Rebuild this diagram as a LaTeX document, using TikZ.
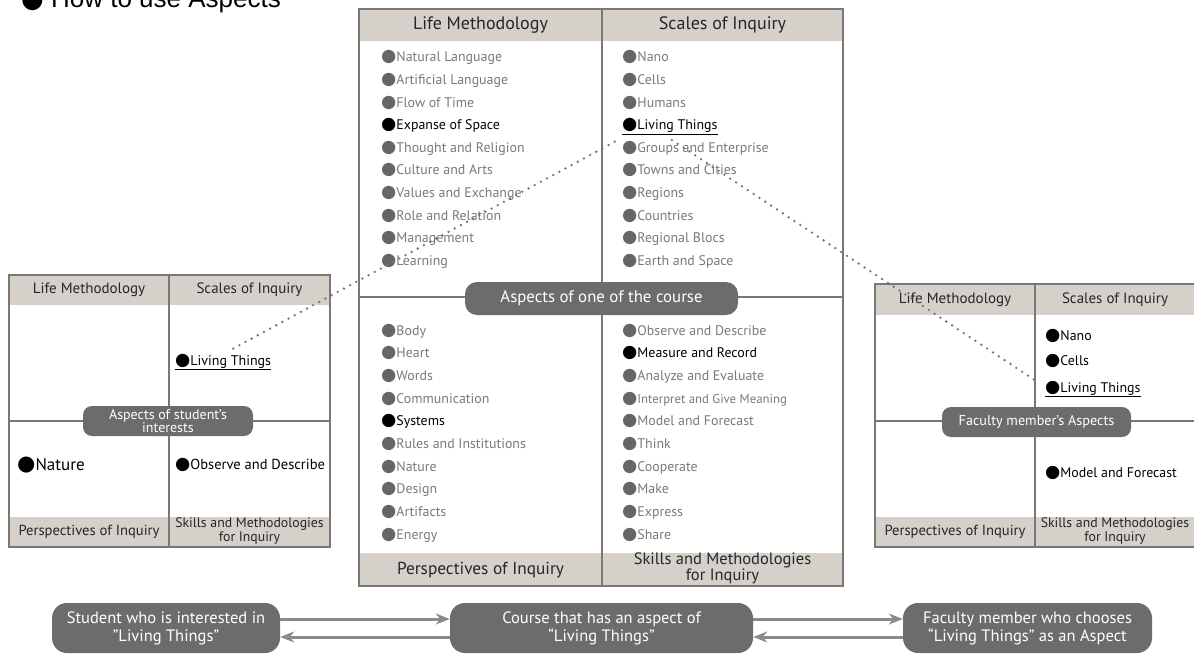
\documentclass[tikz,border=0pt]{standalone}
\usepackage{fontspec}
\setmainfont{PT Sans}
\newfontfamily\symf{DejaVu Sans}
\newfontfamily\titf{Liberation Sans}
\usetikzlibrary{arrows.meta}
\definecolor{hdrc}{HTML}{D6D0CB}
\definecolor{brdc}{HTML}{7B7775}
\definecolor{pillc}{HTML}{6E6C6B}
\definecolor{itmc}{HTML}{7A7A7A}
\definecolor{bulc}{HTML}{666666}
\definecolor{dotc}{HTML}{7F7070}
\definecolor{arrc}{HTML}{8A8A8A}
\newcommand{\gb}{{\color{bulc}\symf\fontsize{17.5}{17}\selectfont ●}}
\newcommand{\bb}{{\color{black}\symf\fontsize{17.5}{17}\selectfont ●}}
\newcommand{\bbig}{{\color{black}\symf\fontsize{21}{21}\selectfont ●}}
\tikzset{
  gi/.style={anchor=base west, inner sep=0pt, text=itmc, font=\fontsize{13.9}{15}\selectfont, execute at begin node=\gb},
  bi/.style={anchor=base west, inner sep=0pt, text=black, font=\fontsize{13.9}{15}\selectfont, execute at begin node=\bb},
  ui/.style={anchor=base west, inner sep=0pt, text=black, font=\fontsize{13.9}{15}\selectfont},
  hd/.style={inner sep=0pt, text=black!85, align=center},
  pill/.style={fill=pillc, text=white, align=center, inner sep=0pt},
  gridline/.style={draw=brdc, line width=1.3pt},
  dotline/.style={draw=dotc, line width=2.6pt, line cap=round, dash pattern=on 0pt off 7pt},
  arrline/.style={draw=arrc, line width=3pt, -{Stealth[length=14pt,width=11pt]}}
}
\begin{document}
\begin{tikzpicture}[x=1pt,y=-1pt]
\useasboundingbox (0,0) rectangle (1194,655);
\clip (0,0) rectangle (1194,655);
\fill[white] (0,0) rectangle (1194,655);

% title (cut at top)
\node[anchor=base west, inner sep=0pt, font=\titf\fontsize{26}{26}\selectfont] (title) at (21,8) {{\symf ●} How to use Aspects};

% ===== central grid =====
\fill[hdrc] (359,9) rectangle (843,41);
\fill[hdrc] (359,553) rectangle (843,586);
\draw[gridline] (359,9) rectangle (843,586);
\draw[gridline] (602,9) -- (602,586);
\draw[gridline] (359,297) -- (843,297);
\node[hd, font=\fontsize{18}{19}\selectfont] (cLM) at (480.5,25) {Life Methodology};
\node[hd, font=\fontsize{18}{19}\selectfont] (cSI) at (722.5,25) {Scales of Inquiry};
\node[hd, font=\fontsize{17.3}{19}\selectfont] (cPI) at (480.5,570) {Perspectives of Inquiry};
\node[hd, font=\fontsize{16.5}{14}\selectfont] (cSM) at (722.5,568) {Skills and Methodologies\\for Inquiry};

\foreach \t/\s [count=\i from 0] in {Natural Language/gi, Artificial Language/gi, Flow of Time/gi, Expanse of Space/bi, Thought and Religion/gi, Culture and Arts/gi, Values and Exchange/gi, Role and Relation/gi, Management/gi, Learning/gi}
  \node[\s] (lm\i) at (381,{62+22.6*\i}) {\t};
\foreach \t/\s/\i in {Nano/gi/0, Cells/gi/1, Humans/gi/2, Groups and Enterprise/gi/4, Towns and Cities/gi/5, Regions/gi/6, Countries/gi/7, Regional Blocs/gi/8, Earth and Space/gi/9}
  \node[\s] (si\i) at (622,{62+22.6*\i}) {\t};
\node[ui] (cLT) at (622,129.8) {\underline{\bb Living Things}};
\foreach \t/\s [count=\i from 0] in {Body/gi, Heart/gi, Words/gi, Communication/gi, Systems/bi, Rules and Institutions/gi, Nature/gi, Design/gi, Artifacts/gi, Energy/gi}
  \node[\s] (pi\i) at (381,{335+22.7*\i}) {\t};
\foreach \t/\s [count=\i from 0] in {Observe and Describe/gi, Measure and Record/bi, Analyze and Evaluate/gi, {\fontsize{12.8}{14}\selectfont Interpret and Give Meaning}/gi, Model and Forecast/gi, Think/gi, Cooperate/gi, Make/gi, Express/gi, Share/gi}
  \node[\s] (sm\i) at (622,{335+22.7*\i}) {\t};

\node[pill, rounded corners=12pt, minimum width=273pt, minimum height=33pt, font=\fontsize{16.8}{18}\selectfont] (cPill) at (601.5,298.5) {Aspects of one of the course};

% ===== left grid =====
\fill[hdrc] (9,275) rectangle (330,305);
\fill[hdrc] (9,517) rectangle (330,547);
\draw[gridline] (9,275) rectangle (330,547);
\draw[gridline] (169,275) -- (169,547);
\draw[gridline] (9,421) -- (330,421);
\node[hd, font=\fontsize{15}{16}\selectfont] (lLM) at (89,290) {Life Methodology};
\node[hd, font=\fontsize{15}{16}\selectfont] (lSI) at (249.5,290) {Scales of Inquiry};
\node[hd, font=\fontsize{14.6}{16}\selectfont] (lPI) at (89,532) {Perspectives of Inquiry};
\node[hd, font=\fontsize{13.8}{12}\selectfont] (lSM) at (249.5,531) {Skills and Methodologies\\for Inquiry};
\node[ui, font=\fontsize{14}{15}\selectfont] (lLT) at (175,365) {\underline{\bb Living Things}};
\node[anchor=base west, inner sep=0pt, font=\fontsize{17}{18}\selectfont] (lNat) at (17,470) {\bbig Nature};
\node[bi, font=\fontsize{14.5}{15}\selectfont] (lOD) at (175,469) {Observe and Describe};
\node[pill, rounded corners=9pt, minimum width=170pt, minimum height=30pt, font=\fontsize{14}{12.5}\selectfont] (lPill) at (168,421) {Aspects of student's\\interests};

% ===== right grid =====
\fill[hdrc] (875,284) rectangle (1197,315);
\fill[hdrc] (875,517) rectangle (1197,547);
\draw[gridline] (875,284) rectangle (1197,547);
\draw[gridline] (1035,284) -- (1035,547);
\draw[gridline] (875,421) -- (1197,421);
\node[hd, font=\fontsize{15}{16}\selectfont] (rLM) at (955,300) {Life Methodology};
\node[hd, font=\fontsize{15}{16}\selectfont] (rSI) at (1115,300) {Scales of Inquiry};
\node[hd, font=\fontsize{14.6}{16}\selectfont] (rPI) at (955,532) {Perspectives of Inquiry};
\node[hd, font=\fontsize{13.8}{12}\selectfont] (rSM) at (1115,531) {Skills and Methodologies\\for Inquiry};
\node[bi] (rNano) at (1045,340) {Nano};
\node[bi] (rCells) at (1045,365) {Cells};
\node[ui] (rLT) at (1045,392) {\underline{\bb Living Things}};
\node[bi] (rMF) at (1045,477) {Model and Forecast};
\node[pill, rounded corners=9pt, minimum width=189pt, minimum height=30pt, font=\fontsize{14.2}{15}\selectfont] (rPill) at (1036.5,422) {Faculty member's Aspects};

% ===== dotted connectors =====
\draw[dotline] ([xshift=10pt,yshift=5pt]lLT.north) -- ([xshift=-4pt,yshift=-5pt]cLT.south west);
\draw[dotline] ([xshift=2pt,yshift=-5pt]cLT.south) -- ([xshift=-11pt,yshift=1pt]rLT.north west);

% ===== bottom row =====
\node[pill, rounded corners=15pt, minimum width=228pt, minimum height=50pt, font=\fontsize{16.5}{18}\selectfont] (bS) at (166,628) {Student who is interested in\\"Living Things"};
\node[pill, rounded corners=15pt, minimum width=303pt, minimum height=50pt, font=\fontsize{16.5}{18}\selectfont] (bC) at (601.5,628) {Course that has an aspect of\\“Living Things”};
\node[pill, rounded corners=15pt, minimum width=249pt, minimum height=50pt, font=\fontsize{16.5}{18}\selectfont] (bF) at (1027.5,628) {Faculty member who chooses\\“Living Things” as an Aspect};
\draw[arrline] ([yshift=9pt]bS.east) -- ([yshift=9pt]bC.west);
\draw[arrline] ([yshift=-9pt]bC.west) -- ([yshift=-9pt]bS.east);
\draw[arrline] ([yshift=9pt]bC.east) -- ([yshift=9pt]bF.west);
\draw[arrline] ([yshift=-9pt]bF.west) -- ([yshift=-9pt]bC.east);
\end{tikzpicture}
\end{document}
